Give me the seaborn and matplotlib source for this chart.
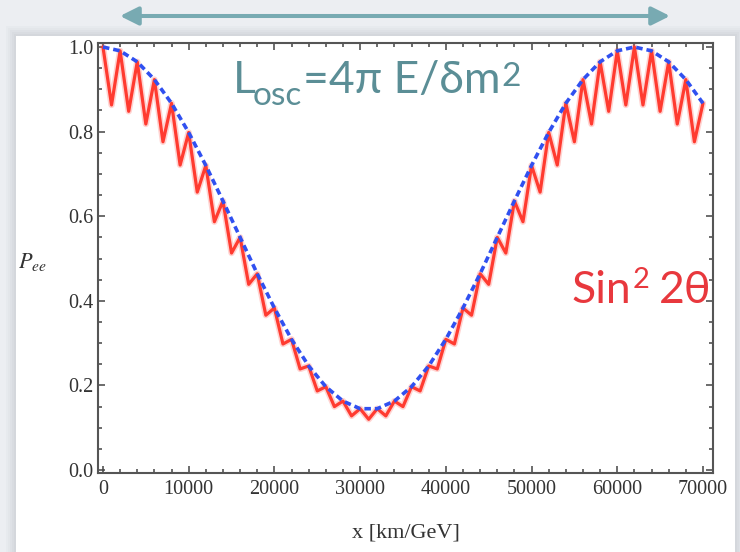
import matplotlib
matplotlib.use("Agg")
import matplotlib.pyplot as plt
import matplotlib.patheffects as pe
from matplotlib.patches import Rectangle, FancyArrowPatch
from matplotlib.ticker import MultipleLocator
import pandas as pd
import seaborn as sns

# ---------------- data ----------------
# averaged (slow) survival probability, blue dashed, sampled every 2000 km/GeV
blue_x = list(range(0, 70001, 2000))
blue_p = [1.000, 0.991, 0.965, 0.923, 0.867, 0.798, 0.720, 0.636, 0.550, 0.464,
          0.383, 0.309, 0.246, 0.197, 0.163, 0.145, 0.145, 0.163, 0.197, 0.246,
          0.309, 0.383, 0.464, 0.550, 0.636, 0.720, 0.798, 0.867, 0.923, 0.965,
          0.991, 1.000, 0.991, 0.965, 0.923, 0.867]

# full probability, red solid: local maxima (touching the blue curve) and minima
red_peak_x = list(range(0, 70001, 2000))
red_peak_p = [1.000, 0.991, 0.965, 0.923, 0.867, 0.798, 0.720, 0.636, 0.550, 0.464,
              0.383, 0.309, 0.246, 0.197, 0.163, 0.145, 0.145, 0.163, 0.197, 0.246,
              0.309, 0.383, 0.464, 0.550, 0.636, 0.720, 0.798, 0.867, 0.923, 0.965,
              0.991, 1.000, 0.991, 0.965, 0.923, 0.867]
red_trough_x = list(range(1000, 70000, 2000))
red_trough_p = [0.863, 0.848, 0.818, 0.776, 0.721, 0.657, 0.587, 0.513, 0.439, 0.366,
                0.298, 0.239, 0.187, 0.150, 0.128, 0.120, 0.128, 0.150, 0.187, 0.239,
                0.298, 0.366, 0.439, 0.513, 0.587, 0.657, 0.721, 0.776, 0.818, 0.848,
                0.863, 0.863, 0.848, 0.818, 0.776]

x_ticks = [0, 10000, 20000, 30000, 40000, 50000, 60000, 70000]
y_ticks = [0.0, 0.2, 0.4, 0.6, 0.8, 1.0]

# ---------------- tables ----------------
red_df = pd.DataFrame({"x": red_peak_x + red_trough_x,
                       "P": red_peak_p + red_trough_p}).sort_values("x")
blue_df = pd.DataFrame({"x": blue_x, "P": blue_p})

# ---------------- style ----------------
sns.set_theme(style="ticks")
plt.rcParams["font.family"] = ["Liberation Serif", "DejaVu Serif"]

W, H = 740, 552
fig = plt.figure(figsize=(W / 100, H / 100), dpi=100, facecolor="#eceef2")

# white slide panel with a soft shadow
for i, a in enumerate([0.05, 0.05, 0.06, 0.07, 0.08]):
    off = 10 - 2 * i
    fig.patches.append(Rectangle(((16 - off) / W, 0), (735 - 16 + 2 * off) / W,
                                 (H - 36 + off) / H, transform=fig.transFigure,
                                 facecolor="#9aa0aa", alpha=a, edgecolor="none",
                                 zorder=-3))
fig.patches.append(Rectangle((16 / W, 0), (735 - 16) / W, (H - 36) / H,
                             transform=fig.transFigure, facecolor="white",
                             edgecolor="none", zorder=-2))

ax = fig.add_axes([98 / W, 1 - 473 / H, (713 - 98) / W, (473 - 43) / H])
ax.set_facecolor("white")

red_col = "#ff3b30"
blue_col = "#3050f0"
sns.lineplot(data=red_df, x="x", y="P", ax=ax, color=red_col, linewidth=2.3,
             estimator=None, sort=False, solid_joinstyle="round",
             solid_capstyle="round",
             path_effects=[pe.Stroke(linewidth=4.6, foreground=red_col, alpha=0.22,
                                     joinstyle="round"),
                           pe.Normal()])
sns.lineplot(data=blue_df, x="x", y="P", ax=ax, color=blue_col, linewidth=2.6,
             estimator=None, sort=False)
ax.lines[-1].set_dashes((1.8, 1.1))

ax.set_xlim(-580, 71170)
ax.set_ylim(-0.007, 1.0095)
ax.set_xticks(x_ticks)
ax.set_xticklabels([str(v) for v in x_ticks])
ax.set_yticks(y_ticks)
ax.set_yticklabels([f"{v:.1f}" for v in y_ticks])
ax.xaxis.set_minor_locator(MultipleLocator(2000))
ax.yaxis.set_minor_locator(MultipleLocator(0.05))
ax.tick_params(which="both", direction="in", top=True, right=True,
               colors="#444444", width=1.1)
ax.tick_params(which="major", length=5)
ax.tick_params(which="minor", length=2.6)
ax.tick_params(axis="x", which="major", pad=5, labelsize=14.5, labelcolor="#333333")
ax.tick_params(axis="y", which="major", pad=3, labelsize=14.5, labelcolor="#333333")
for s in ax.spines.values():
    s.set_color("#555555")
    s.set_linewidth(1.5)

ax.set_xlabel("x [km/GeV]", fontsize=16, color="#333333")
ax.xaxis.set_label_coords(0.5, -(533 - 473) / (473 - 43))
ax.xaxis.label.set_va("center")
ax.set_ylabel("")

fig.text(32 / W, 1 - 262 / H, r"$P_{ee}$", ha="center", va="center",
         fontsize=16, color="#333333", math_fontfamily="stix")

# ---------------- annotations ----------------
teal = "#5b8e96"
red_txt = "#e8383d"
sans = ["Lato", "DejaVu Sans"]
renderer = fig.canvas.get_renderer()


def put(xpx, ybase_img, s, size, color):
    t = fig.text(xpx / W, 1 - ybase_img / H, s, fontsize=size, color=color,
                 ha="left", va="baseline", family=sans)
    return t.get_window_extent(renderer).x1


x1 = put(233, 93, "L", 32, teal)
x2 = put(x1 - 3, 105, "osc", 24, teal)
x3 = put(x2 + 1, 93, "=4π E/δm", 32, teal)
put(x3 + 1, 86, "2", 24, teal)

s1 = put(571, 303, "Sin", 32, red_txt)
s2 = put(s1 + 2, 288, "2", 21, red_txt)
put(s2 + 9, 303, "2θ", 32, red_txt)

arrow = FancyArrowPatch((120 / W, 1 - 16 / H), (670 / W, 1 - 16 / H),
                        transform=fig.transFigure,
                        arrowstyle="<|-|>,head_length=1.1,head_width=0.55",
                        mutation_scale=10, linewidth=2.9, color="#78aab2",
                        shrinkA=0, shrinkB=0)
fig.patches.append(arrow)

fig.savefig("out.png", dpi=100, facecolor=fig.get_facecolor())
